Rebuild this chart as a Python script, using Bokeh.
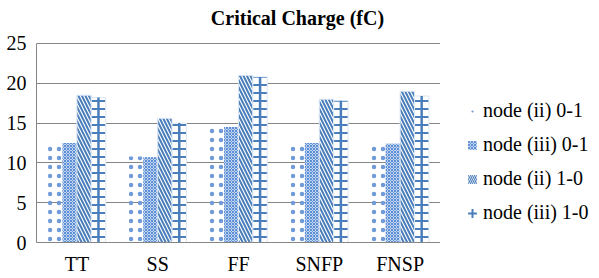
from bokeh.plotting import figure
from bokeh.models import ColumnDataSource, FactorRange, Range1d, Legend, LegendItem, FixedTicker, Label
from bokeh.layouts import row
from bokeh.transform import dodge
from bokeh.embed import file_html
from bokeh.resources import INLINE

categories = ["TT", "SS", "FF", "SNFP", "FNSP"]
node_ii_01 = [12.6, 10.8, 14.6, 12.6, 12.5]
node_iii_01 = [12.5, 10.7, 14.5, 12.5, 12.4]
node_ii_10 = [18.5, 15.6, 21.0, 18.0, 19.0]
node_iii_10 = [18.2, 15.0, 20.8, 17.8, 18.4]
series_names = ["node (ii) 0-1", "node (iii) 0-1", "node (ii) 1-0", "node (iii) 1-0"]
y_ticks = [0, 5, 10, 15, 20, 25]
title_text = "Critical Charge (fC)"

src = ColumnDataSource(dict(cat=categories, a=node_ii_01, b=node_iii_01,
                            c=node_ii_10, d=node_iii_10, zero=[0] * 5))

FONT = "'Liberation Serif', 'Times New Roman', serif"
BLUE = "#4a7ebb"
DOT = "#6f9bd8"

xr = FactorRange(*categories, range_padding=0)
# extra headroom above 25 holds the title inside the frame; axis line bounded to 0..25
yr = Range1d(0, 30.4)

p = figure(width=440, height=278, x_range=xr, y_range=yr, output_backend="svg",
           toolbar_location=None, min_border_left=36, min_border_right=0,
           min_border_top=0, min_border_bottom=36)
p.outline_line_color = None

w = 0.178
bar_styles = [
    dict(top="a", off=-1.5, fill_color=None, line_color=None, hatch_pattern="dot", hatch_scale=9,
         hatch_weight=0.8, hatch_color=DOT),
    dict(top="b", off=-0.5, fill_color="#c3d4ee", line_color=None, hatch_pattern="diagonal_cross",
         hatch_scale=3, hatch_weight=1, hatch_color="#5b8fd6"),
    dict(top="c", off=0.5, fill_color="white", line_color="#dbe6f4", hatch_pattern="left_diagonal_line",
         hatch_scale=7, hatch_weight=2, hatch_color=BLUE),
    dict(top="d", off=1.5, fill_color="white", line_color="#dbe6f4", hatch_pattern="horizontal_line",
         hatch_scale=8, hatch_weight=2, hatch_color=BLUE),
]
for st in bar_styles:
    st = dict(st)
    off = st.pop("off")
    top = st.pop("top")
    p.vbar(x=dodge("cat", off * w, range=xr), top=top, width=w, source=src, **st)
p.segment(x0=dodge("cat", 1.5 * w, range=xr), y0="zero",
          x1=dodge("cat", 1.5 * w, range=xr), y1="d", source=src,
          line_color=BLUE, line_width=2.5)

p.xaxis.axis_line_color = "#868686"
p.yaxis.axis_line_color = "#868686"
p.yaxis.bounds = (0, 25)
for ax in (p.xaxis, p.yaxis):
    ax.major_tick_line_color = None
    ax.minor_tick_line_color = None
    ax.major_tick_out = 0
    ax.major_tick_in = 0
    ax.minor_tick_out = 0
    ax.minor_tick_in = 0
    ax.major_label_text_font = FONT
    ax.major_label_text_font_size = "20px"
    ax.major_label_text_color = "black"
p.xaxis.major_label_standoff = 10
p.yaxis.major_label_standoff = 10
p.yaxis.ticker = FixedTicker(ticks=y_ticks)
p.xgrid.grid_line_color = None
p.ygrid.grid_line_color = "#868686"
p.ygrid.grid_line_width = 1

p.add_layout(Label(x=261, y=225, x_units="screen", y_units="screen", text=title_text,
                   text_font=FONT, text_font_size="20px", text_font_style="bold",
                   text_align="center", text_baseline="alphabetic", text_color="black"))

# legend panel
q = figure(width=159, height=278, x_range=xr, y_range=yr, output_backend="svg",
           toolbar_location=None, min_border_left=0, min_border_right=0,
           min_border_top=0, min_border_bottom=36, x_axis_type=None, y_axis_type=None)
q.outline_line_color = None
q.xgrid.visible = False
q.ygrid.visible = False
l1 = q.scatter(x="cat", y="a", source=src, marker="dot", size=10, line_color=DOT, fill_color=DOT,
               visible=False)
l2 = q.scatter(x="cat", y="b", source=src, marker="square", size=10, fill_color="#c3d4ee", line_color=None,
               hatch_pattern="diagonal_cross", hatch_scale=3, hatch_weight=1, hatch_color="#5b8fd6",
               visible=False)
l3 = q.scatter(x="cat", y="c", source=src, marker="square", size=10, fill_color="white", line_color=None,
               hatch_pattern="left_diagonal_line", hatch_scale=4, hatch_weight=1.2, hatch_color=BLUE,
               visible=False)
l4 = q.scatter(x="cat", y="d", source=src, marker="cross", size=10, line_color=BLUE, line_width=2,
               visible=False)

legend = Legend(items=[LegendItem(label=n, renderers=[r]) for n, r in zip(series_names, [l1, l2, l3, l4])],
                location=(21, 18), padding=0, margin=0, spacing=11,
                glyph_width=22, glyph_height=22, label_standoff=0, label_height=19,
                label_text_font=FONT, label_text_font_size="20px", label_text_color="black",
                border_line_color=None, background_fill_alpha=0)
q.add_layout(legend)

open("out.html", "w").write(file_html(row(p, q, spacing=0), INLINE))
